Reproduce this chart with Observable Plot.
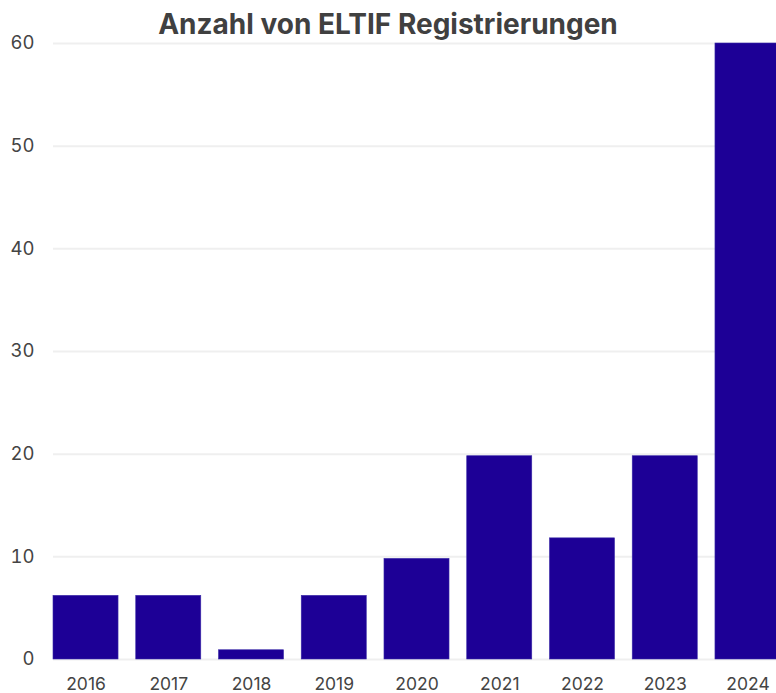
<!DOCTYPE html>
<html>
<head>
<meta charset="utf-8">
<script src="https://cdn.jsdelivr.net/npm/d3@7"></script>
<script src="https://cdn.jsdelivr.net/npm/@observablehq/plot@0.6"></script>
<style>
  html, body { margin: 0; padding: 0; background: #fff; overflow: hidden; }
  #wrap { position: relative; width: 776px; height: 693px; overflow: hidden; }
  #title {
    position: absolute; left: 0; width: 776px; top: 7px; margin: 0;
    text-align: center; font-family: Inter, sans-serif; font-weight: 700;
    font-size: 28px; line-height: 34px; color: #404040; z-index: 2;
  }
  #chart svg { overflow: hidden; }
</style>
</head>
<body>
<div id="wrap">
  <h2 id="title">Anzahl von ELTIF Registrierungen</h2>
  <div id="chart"></div>
</div>
<script>
const years = ["2016", "2017", "2018", "2019", "2020", "2021", "2022", "2023", "2024"];
const counts = [6.2, 6.2, 0.9, 6.2, 9.8, 19.8, 11.8, 19.8, 60];
const yTicks = [0, 10, 20, 30, 40, 50, 60];

const data = years.map((year, i) => ({year, count: counts[i]}));

const chart = Plot.plot({
  width: 776,
  height: 693,
  marginTop: 43,
  marginBottom: 34,
  marginLeft: 53,
  marginRight: 0,
  style: {fontFamily: "Inter, sans-serif", background: "#fff"},
  x: {domain: years, range: [53, 780], paddingInner: 0.214, paddingOuter: 0, round: false, label: null},
  y: {domain: [0, 60], label: null},
  marks: [
    Plot.gridY(yTicks, {stroke: "#efefef", strokeOpacity: 1, strokeWidth: 2}),
    Plot.barY(data, {x: "year", y: "count", fill: "#1d0096", stroke: "#3a2aa8", strokeWidth: 0.6}),
    Plot.axisX({tickSize: 0, tickPadding: 18.5, fontSize: 17.5, color: "#444"}),
    Plot.axisY(yTicks, {tickSize: 0, tickPadding: 19, fontSize: 18.5, color: "#444", label: null})
  ]
});
document.getElementById("chart").appendChild(chart);
</script>
</body>
</html>
